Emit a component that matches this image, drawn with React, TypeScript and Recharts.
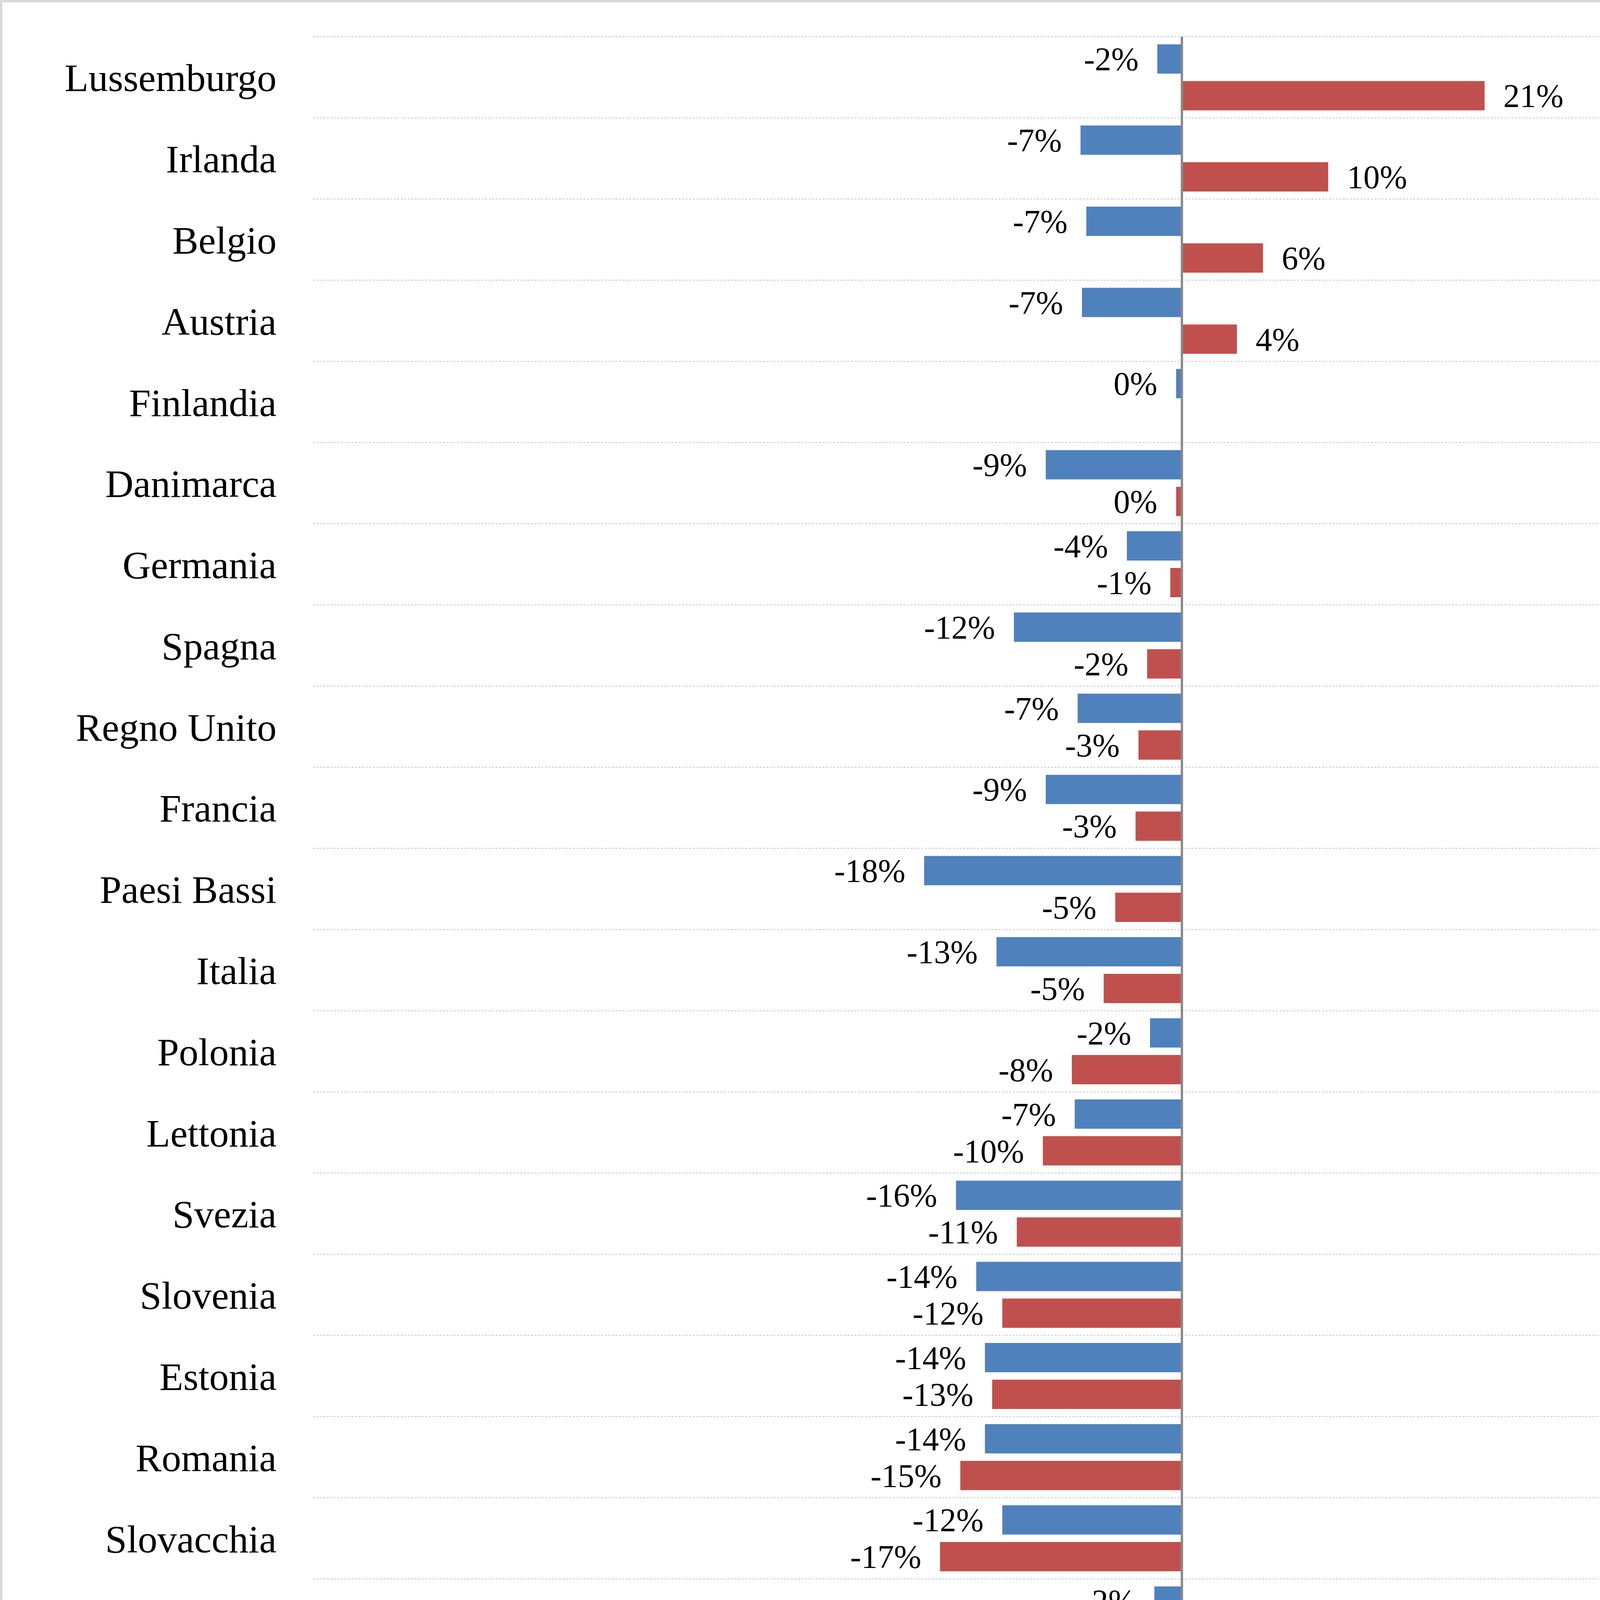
import React from "react";
import {
  BarChart,
  Bar,
  XAxis,
  YAxis,
  CartesianGrid,
  ReferenceLine,
  LabelList,
  Legend,
} from "recharts";

// Paesi, dall'alto verso il basso
const countries = [
  "Lussemburgo", "Irlanda", "Belgio", "Austria", "Finlandia", "Danimarca",
  "Germania", "Spagna", "Regno Unito", "Francia", "Paesi Bassi", "Italia",
  "Polonia", "Lettonia", "Svezia", "Slovenia", "Estonia", "Romania",
  "Slovacchia", "Repubblica ceca", "Lituania", "Croazia", "Malta",
  "Bulgaria", "Portogallo", "Grecia", "Ungheria", "Cipro",
];

// Scarto 2014 (% emissioni anno di riferimento)
const gap2014 = [
  -1.7, -7.0, -6.6, -6.9, -0.4, -9.4, -3.8, -11.6, -7.2, -9.4, -17.8, -12.8,
  -2.2, -7.4, -15.6, -14.2, -13.6, -13.6, -12.4, -1.9, -6.1, -18.9, -8.3,
  -12.3, -20.4, -21.1, -27.0, -31.1,
];

// Scarto 2020
const gap2020 = [
  20.9, 10.1, 5.6, 3.8, 0, -0.4, -0.8, -2.4, -3.0, -3.2, -4.6, -5.4, -7.6,
  -9.6, -11.4, -12.4, -13.1, -15.3, -16.7, -16.9, -18.4, -19.8, -21.0,
  -25.4, -25.9, -27.4, -39.8, -48.9,
];

const xTicks = [-60, -50, -40, -30, -20, -10, 0, 10, 20, 30];

const label2014 =
  "Scarto tra le stime delle emissioni per il 2014 e gli obiettivi 2014 della DCS (in % delle emissioni dell'anno di riferimento)";
const label2020 =
  "Scarto tra le proiezioni 2020 e gli obiettivi 2020 della DCS (in % delle emissioni dell'anno di riferimento)";
const legendOrder = [label2014, label2020];

const data = countries.map((name, i) => ({
  name,
  s2014: gap2014[i],
  s2020: gap2020[i],
}));

const FONT = "'Liberation Serif', 'Times New Roman', serif";
const AXIS_GRAY = "#898989";

const pct = (v: number) => `${Math.round(v)}%`;

const BarLabel = (props: any) => {
  const { x, y, width, height, value } = props;
  const left = Math.min(x, x + width);
  const right = Math.max(x, x + width);
  const neg = value < 0;
  return (
    <text
      x={neg ? left - 48 : right + 48}
      y={y + height / 2}
      dy="0.35em"
      textAnchor={neg ? "end" : "start"}
      fontFamily={FONT}
      fontSize={84}
      fill="#000"
    >
      {pct(value)}
    </text>
  );
};

const LegendBox = (props: any) => {
  const items = [...(props.payload || [])].sort(
    (a: any, b: any) => legendOrder.indexOf(a.value) - legendOrder.indexOf(b.value)
  );
  return (
    <div style={{ fontFamily: FONT, fontSize: 98, lineHeight: "122px", color: "#000" }}>
      {items.map((entry: any) => (
        <div key={entry.value} style={{ display: "flex", marginBottom: 29 }}>
          <span
            style={{
              flex: "0 0 auto",
              width: 52,
              height: 55,
              marginTop: 33,
              marginRight: 24,
              background: entry.color,
            }}
          />
          <span>{entry.value}</span>
        </div>
      ))}
    </div>
  );
};

const bandLines = ({ offset }: any) => {
  const step = offset.height / countries.length;
  return countries.map((_, i) => offset.top + i * step);
};

const App = () => {
  return (
    <>
      <style>{"body{margin:0}"}</style>
      <div
        style={{
          width: 4318,
          height: 6662,
          boxSizing: "border-box",
          border: "6px solid #d9d9d9",
          background: "#fff",
        }}
      >
        <BarChart
          width={4306}
          height={6650}
          data={data}
          layout="vertical"
          margin={{ top: 88, right: 174, left: 0, bottom: 584 }}
          barCategoryGap={19.4}
          barGap={19}
        >
          <CartesianGrid
            vertical={false}
            stroke="#c4c4c4"
            strokeWidth={2}
            strokeDasharray="5 4"
            horizontalCoordinatesGenerator={bandLines}
          />
          <XAxis
            type="number"
            domain={[-60, 30]}
            ticks={xTicks}
            interval={0}
            tickFormatter={(v: number) => `${v}%`}
            height={160}
            tickSize={32}
            tickMargin={58}
            axisLine={{ stroke: AXIS_GRAY, strokeWidth: 6 }}
            tickLine={{ stroke: AXIS_GRAY, strokeWidth: 6 }}
            tick={{ fontFamily: FONT, fontSize: 92, fill: "#000" }}
          />
          <YAxis
            type="category"
            dataKey="name"
            width={795}
            interval={0}
            tickSize={0}
            tickMargin={93}
            axisLine={false}
            tickLine={false}
            tick={{ fontFamily: FONT, fontSize: 100, fill: "#000" }}
          />
          <Bar dataKey="s2014" name={label2014} fill="#4F81BD" isAnimationActive={false}>
            <LabelList dataKey="s2014" content={BarLabel} />
          </Bar>
          <Bar dataKey="s2020" name={label2020} fill="#C0504D" isAnimationActive={false}>
            <LabelList dataKey="s2020" content={BarLabel} />
          </Bar>
          <ReferenceLine x={0} stroke={AXIS_GRAY} strokeWidth={6} />
          <Legend
            layout="horizontal"
            verticalAlign="middle"
            align="center"
            content={LegendBox}
            wrapperStyle={{ left: 228, top: 6118, width: 3996 }}
          />
        </BarChart>
      </div>
    </>
  );
};

export default App;
